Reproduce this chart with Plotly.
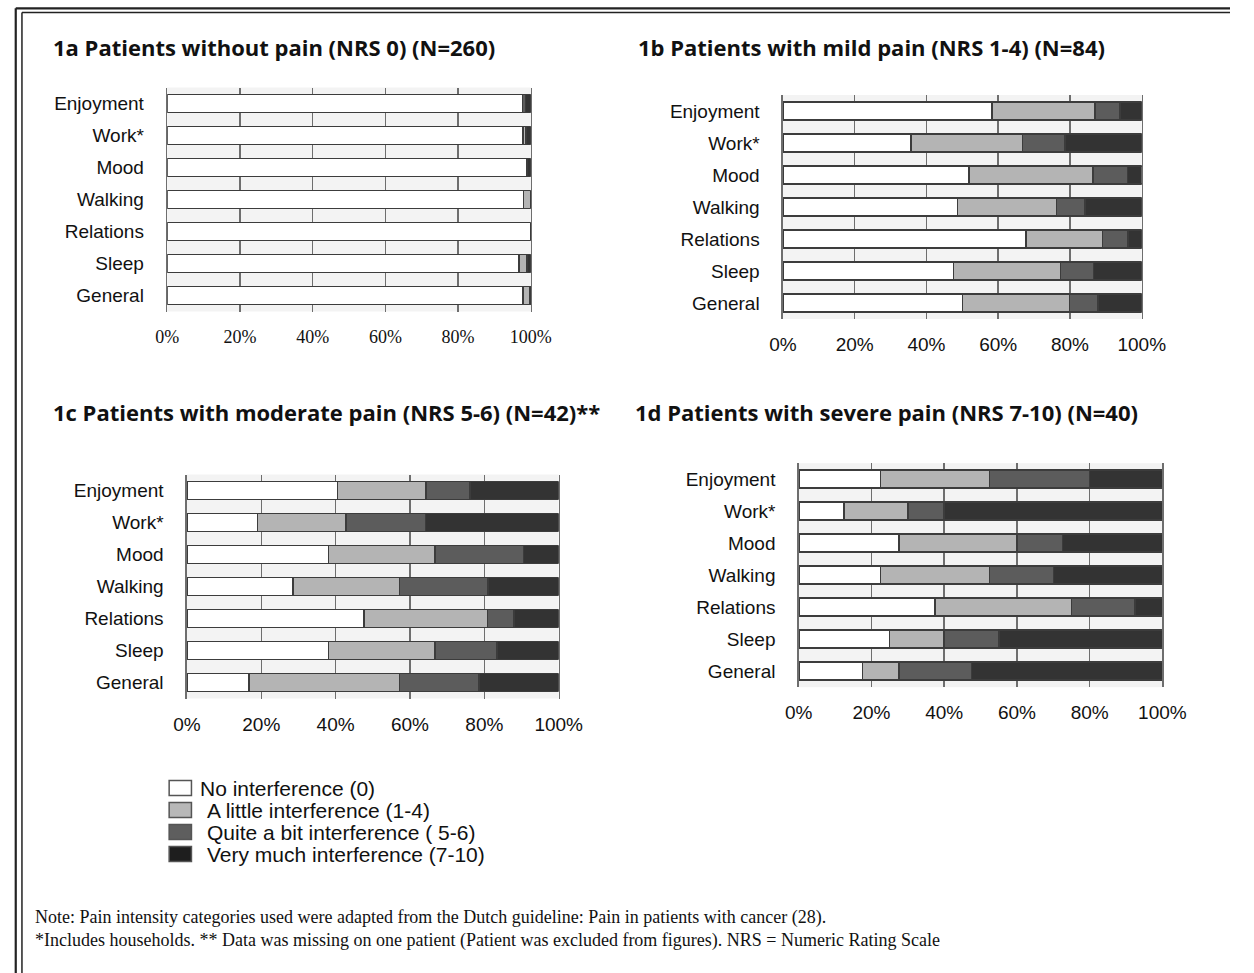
import plotly.graph_objects as go

W, H = 1254, 973

categories = ["Enjoyment", "Work*", "Mood", "Walking", "Relations", "Sleep", "General"]
series_names = ["No interference (0)", "A little interference (1-4)",
                "Quite a bit interference ( 5-6)", "Very much interference (7-10)"]
tick_vals = [0, 20, 40, 60, 80, 100]
tick_text = ["0%", "20%", "40%", "60%", "80%", "100%"]

# 1a  Patients without pain (N=260)
a_none = [97.7, 97.8, 98.9, 98.0, 100.0, 96.8, 97.9]
a_little = [0.0, 0.8, 0.0, 2.0, 0.0, 2.1, 1.9]
a_quite = [0.8, 0.0, 0.0, 0.0, 0.0, 0.0, 0.0]
a_very = [1.5, 1.4, 1.1, 0.0, 0.0, 1.1, 0.7]

# 1b  Patients with mild pain (N=84)
b_none = [58.3, 35.7, 51.9, 48.7, 67.7, 47.5, 50.0]
b_little = [28.6, 31.0, 34.5, 27.5, 21.3, 29.8, 29.8]
b_quite = [7.1, 11.9, 9.6, 8.0, 7.2, 9.3, 8.0]
b_very = [6.0, 21.4, 4.6, 15.8, 3.8, 13.4, 12.2]

# 1c  Patients with moderate pain (N=42)
c_none = [40.5, 19.0, 38.1, 28.6, 47.6, 38.1, 16.7]
c_little = [23.8, 23.8, 28.6, 28.6, 33.3, 28.6, 40.5]
c_quite = [11.9, 21.4, 23.8, 23.8, 7.1, 16.7, 21.4]
c_very = [23.8, 35.8, 9.5, 19.0, 12.0, 16.6, 21.4]

# 1d  Patients with severe pain (N=40)
d_none = [22.5, 12.5, 27.5, 22.5, 37.5, 25.0, 17.5]
d_little = [30.0, 17.5, 32.5, 30.0, 37.5, 15.0, 10.0]
d_quite = [27.5, 10.0, 12.5, 17.5, 17.5, 15.0, 20.0]
d_very = [20.0, 60.0, 27.5, 30.0, 7.5, 45.0, 52.5]

titles = ["1a Patients without pain (NRS 0) (N=260)",
          "1b Patients with mild pain (NRS 1-4) (N=84)",
          "1c Patients with moderate pain (NRS 5-6) (N=42)**",
          "1d Patients with severe pain (NRS 7-10) (N=40)"]

note_lines = ["Note: Pain intensity categories used were adapted from the Dutch guideline: Pain in patients with cancer (28).",
              "*Includes households. ** Data was missing on one patient (Patient was excluded from figures). NRS = Numeric Rating Scale"]

bar_colors = ["#ffffff", "#b4b4b4", "#5c5c5c", "#333333"]
legend_colors = ["#ffffff", "#b8b8b8", "#5e5e5e", "#1e1e1e"]
edge = "#3c3c3c"


def px_x(p):
    return p / W


def px_y(p):
    return 1 - p / H


panels = [
    dict(data=[a_none, a_little, a_quite, a_very], x=(158, 533), y=(87.5, 311.5),
         tfont=dict(family="Liberation Serif, Times New Roman, serif", size=18, color="#111")),
    dict(data=[b_none, b_little, b_quite, b_very], x=(793, 1163), y=(95, 319),
         tfont=dict(family="Liberation Sans, Arial, sans-serif", size=19, color="#111")),
    dict(data=[c_none, c_little, c_quite, c_very], x=(178.3, 561.7), y=(474.5, 698.5),
         tfont=dict(family="Liberation Sans, Arial, sans-serif", size=19, color="#111")),
    dict(data=[d_none, d_little, d_quite, d_very], x=(809.3, 1184.3), y=(463.2, 687.2),
         tfont=dict(family="Liberation Sans, Arial, sans-serif", size=19, color="#111")),
]
title_pos = [(38, 47), (641, 47), (38, 412), (638, 412)]

fig = go.Figure()
layout = {}
for i, p in enumerate(panels):
    sfx = "" if i == 0 else str(i + 1)
    for k in range(4):
        fig.add_trace(go.Bar(
            x=p["data"][k], y=categories, orientation="h", width=0.56,
            marker=dict(color=bar_colors[k], line=dict(color=edge, width=1.5)),
            name=series_names[k], showlegend=False,
            xaxis="x" + sfx, yaxis="y" + sfx,
        ))
    layout["xaxis" + sfx] = dict(
        domain=[px_x(p["x"][0]), px_x(p["x"][1])], range=[0, 100],
        anchor="y" + sfx, tickvals=tick_vals, ticktext=tick_text,
        showgrid=True, gridcolor="#6e6e6e", gridwidth=1.5, zeroline=False,
        showline=False, ticks="", tickfont=p["tfont"], ticklabelstandoff=12,
        fixedrange=True,
    )
    layout["yaxis" + sfx] = dict(
        domain=[px_y(p["y"][1]), px_y(p["y"][0])], anchor="x" + sfx,
        type="category", categoryorder="array", categoryarray=categories,
        range=[6.5, -0.5], showgrid=False, zeroline=False,
        showline=True, mirror=True, linecolor="#6e6e6e", linewidth=1.5,
        ticks="", ticklabelstandoff=18,
        tickfont=dict(family="Liberation Sans, Arial, sans-serif", size=19, color="#111"),
        fixedrange=True,
    )

annotations = []
for (tx, ty), t in zip(title_pos, titles):
    annotations.append(dict(
        x=px_x(tx), y=px_y(ty), xref="paper", yref="paper", text="<b>" + t + "</b>",
        showarrow=False, xanchor="left", yanchor="middle",
        font=dict(family="Open Sans, sans-serif", size=22, color="#111")))

shapes = []
leg_rows = [788, 810, 832, 854]
leg_text_x = [190, 197, 197, 197]
for k in range(4):
    cy = leg_rows[k]
    shapes.append(dict(type="rect", xref="paper", yref="paper",
                       x0=px_x(160), x1=px_x(183), y0=px_y(cy + 7.5), y1=px_y(cy - 7.5),
                       fillcolor=legend_colors[k], line=dict(color="#555", width=1.5)))
    annotations.append(dict(
        x=px_x(leg_text_x[k]), y=px_y(cy), xref="paper", yref="paper",
        text=series_names[k], showarrow=False, xanchor="left", yanchor="middle",
        font=dict(family="Liberation Sans, Arial, sans-serif", size=21, color="#111")))

for j, line in enumerate(note_lines):
    annotations.append(dict(
        x=px_x(20), y=px_y(917 + 23 * j), xref="paper", yref="paper",
        text=line, showarrow=False, xanchor="left", yanchor="middle",
        font=dict(family="Liberation Serif, Times New Roman, serif", size=18, color="#111")))

# double frame lines (top and left)
for (xo, yo, w) in [(1.8, 8.3, 2.2), (8.2, 12.5, 1.5)]:
    shapes.append(dict(type="line", xref="paper", yref="paper",
                       x0=px_x(xo), x1=1, y0=px_y(yo), y1=px_y(yo),
                       line=dict(color="#222", width=w)))
    shapes.append(dict(type="line", xref="paper", yref="paper",
                       x0=px_x(xo), x1=px_x(xo), y0=px_y(yo), y1=0,
                       line=dict(color="#222", width=w)))

fig.update_layout(
    width=W, height=H, margin=dict(l=0, r=0, t=0, b=0),
    paper_bgcolor="white", plot_bgcolor="#f3f3f3",
    barmode="stack", bargap=0.44, showlegend=False,
    annotations=annotations, shapes=shapes, **layout,
)

fig.write_html(
    "out.html",
    config={"displayModeBar": False, "staticPlot": True},
    post_script="document.body.style.margin='0';document.body.style.padding='0';"
                "document.body.style.overflow='hidden';",
)
